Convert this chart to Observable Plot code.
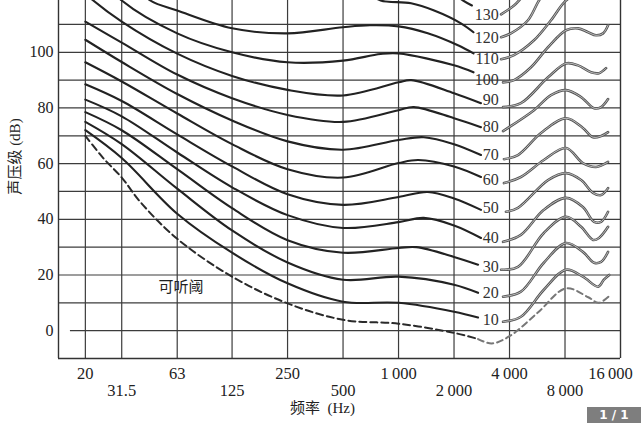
<!DOCTYPE html>
<html><head><meta charset="utf-8">
<script src="https://cdn.jsdelivr.net/npm/d3@7"></script>
<script src="https://cdn.jsdelivr.net/npm/@observablehq/plot@0.6"></script>
<style>
html,body{margin:0;padding:0;background:#fff;}
#wrap{position:relative;width:643px;height:424px;overflow:hidden;}
#badge{position:absolute;left:587px;top:407px;width:54px;height:16px;background:#7e7e7e;color:#fff;font:bold 12px "DejaVu Sans",sans-serif;text-align:center;line-height:16px;}
</style></head><body>
<div id="wrap"><div id="chart"></div><div id="badge">1 / 1</div></div>
<script>
// ---- axes ----
const xDomain = [14.3, 16000];
const yDomain = [-10, 118.6];
const gridFreq = [20, 31.5, 63, 125, 250, 500, 1000, 2000, 4000, 8000];
const upperTicks = [20, 63, 250, 1000, 4000, 16000];
const upperLabels = ["20", "63", "250", "1\u2009000", "4\u2009000", "16\u2009000"];
const lowerTicks = [31.5, 125, 500, 2000, 8000];
const lowerLabels = ["31.5", "125", "500", "2\u2009000", "8\u2009000"];
const gridDb = [10, 20, 30, 40, 50, 60, 70, 80, 90, 100, 110];
const yTicks = [0, 20, 40, 60, 80, 100];
const xTitle = "频率  (Hz)";
const yTitle = "声压级 (dB)";
const thresholdName = "可听阈";

// ---- threshold of hearing (dashed) [Hz, dB] ----
const thresholdLow = [[20,70],[25,62],[31.5,55],[40,46],[63,33],[125,19.4],[250,9.8],[500,3.9],[1000,2.5],[2000,-0.8],[2700,-3]];
const thresholdHigh = [[2700,-3],[3200,-4.6],[4000,-2],[5700,6.5],[8100,15.2],[10700,12],[12200,10],[14200,13]];

// ---- equal-loudness contours, left part (before label) [Hz, dB] ----
const L10 = [[20,72],[31.5,62],[63,42],[125,28],[250,17],[500,10.4],[1000,10],[2000,6.8],[2700,4.7]];
const L20 = [[20,75],[31.5,67],[63,51],[125,36],[250,24.5],[500,18.3],[1000,19.4],[2000,16.5],[2700,13.6]];
const L30 = [[20,78.5],[31.5,72],[63,58],[125,44],[250,32.5],[500,28],[1000,29.7],[1250,30],[2000,26.5],[2700,23.7]];
const L40 = [[20,83],[31.5,77],[63,64],[125,51.5],[250,41.5],[500,36.9],[1000,39],[1370,40.5],[2000,37.8],[2800,33.3]];
const L50 = [[20,88.5],[31.5,82.5],[63,70.5],[125,59],[250,49],[500,45.2],[1000,48],[1440,49.8],[2000,47.5],[2800,43.4]];
const L60 = [[20,96.4],[31.5,89.5],[63,78],[125,67],[250,58],[500,55],[1000,60.2],[1280,61.3],[2000,59],[2800,55.2]];
const L70 = [[20,104.5],[31.5,96.5],[63,85],[125,75.5],[250,68],[500,65],[1000,68.5],[1370,69.5],[2000,67],[2800,63.1]];
const L80 = [[20,111],[31.5,103.5],[63,92],[125,83.5],[250,77.5],[500,75],[1000,79.2],[1210,80.3],[2000,76.3],[2800,73.1]];
const L90 = [[18,124],[20,121],[31.5,111],[63,99.5],[125,91.5],[250,86.5],[500,84.5],[1000,89.2],[1170,90],[2000,85.3],[2800,81.7]];
const L100 = [[25,126],[31.5,118.6],[63,106.8],[125,100],[250,96.4],[500,97],[800,99.4],[1000,99.6],[2000,95.3],[2550,92.8]];
const L110 = [[38,124],[45,118.6],[63,115],[125,108.6],[250,106.8],[500,109],[700,109.7],[1000,109.3],[1440,106.8],[2100,102.5],[2550,99.6]];
const L120 = [[700,121],[800,118.6],[1170,117.6],[1560,115],[2180,110.4],[2550,107.2]];
const L130 = [[1800,123],[2240,118.6],[2500,116.8]];

// ---- right part (after label) [Hz, dB] ----
const R10 = [[3690,3.2],[4610,5],[6140,14.7],[8100,21.9],[10000,19.4],[12100,15.8],[13000,18.3],[13900,20]];
const R20 = [[3690,12.2],[4610,14],[6140,24.4],[8100,31.5],[10000,28.3],[11500,24.4],[12550,24.7],[13700,28.3]];
const R30 = [[3600,21.9],[4446,22.9],[6140,35.1],[8100,40.9],[9780,37.3],[11350,32.6],[12230,33.3],[13700,37.3]];
const R40 = [[3690,31.9],[4610,34.4],[6140,43.4],[8100,47.7],[10000,44.4],[11500,39.1],[12550,39.1],[13700,42.7]];
const R50 = [[3825,42.7],[4446,44.1],[6470,54.1],[8100,56.6],[9780,54.1],[11350,49.5],[12550,48.7],[13700,51.2]];
const R60 = [[3731,53],[4610,55.2],[6140,61.3],[8100,65.6],[10000,60.2],[11790,58.8],[13700,60.6]];
const R70 = [[3731,61.6],[4446,63.1],[5926,71],[8100,76.3],[10000,72.8],[11350,69.5],[12550,69.9],[13700,71.3]];
const R80 = [[3690,71.7],[5430,79.2],[6714,84.6],[8100,86.4],[9780,83.9],[11500,79.9],[12550,80.3],[13700,83.2]];
const R90 = [[3690,80.3],[4610,81.7],[6470,91],[8100,96],[9417,95.3],[11077,92.8],[12230,92.5],[13360,94.3]];
const R100 = [[3690,89.2],[4230,90],[5231,94.6],[6470,101.8],[8100,107.9],[9417,108.6],[10672,107.2],[11790,106.1],[12876,106.8],[13700,109.7]];
const R110 = [[3600,97.5],[4230,99],[5430,104.3],[6714,111.5],[8100,118.6],[9500,121],[12000,120],[13500,122]];
const R120 = [[3600,105.4],[4070,106.8],[5038,111.5],[5781,118.6],[6500,123]];
const R130 = [[3600,113.6],[4230,116.8],[4501,118.6],[5000,122]];

// ---- curve labels ----
const phons = [130, 120, 110, 100, 90, 80, 70, 60, 50, 40, 30, 20, 10];
const labelDb = [113.3, 105, 97.8, 90, 82.8, 73.1, 63.1, 54.1, 44.1, 33.3, 22.9, 13.6, 3.9];
const labelFreq = 3500;
const thresholdLabelFreq = 66, thresholdLabelDb = 15.5;

const lefts = [L10,L20,L30,L40,L50,L60,L70,L80,L90,L100,L110,L120,L130];
const rights = [R10,R20,R30,R40,R50,R60,R70,R80,R90,R100,R110,R120,R130];
const toRows = (segs) => segs.flatMap((pts, i) => pts.map(([f, db]) => ({phon: (i + 1) * 10, f, db})));
const leftRows = toRows(lefts);
const rightRows = toRows(rights);
const thrLowRows = thresholdLow.map(([f, db]) => ({f, db}));
const thrHighRows = thresholdHigh.map(([f, db]) => ({f, db}));
const labelRows = phons.map((p, i) => ({p, db: labelDb[i]}));

const serif = "'Liberation Serif','DejaVu Serif','Noto Sans CJK SC',serif";
const cjk = "'Liberation Serif','Noto Sans CJK SC',serif";

const chart = Plot.plot({
  width: 643, height: 424,
  marginLeft: 58, marginRight: 23, marginTop: 0, marginBottom: 66,
  x: {type: "log", domain: xDomain, axis: null},
  y: {domain: yDomain, axis: null},
  style: {background: "white", fontFamily: serif},
  marks: [
    Plot.ruleY(gridDb, {y: d => d, stroke: "#3c3c3c", strokeWidth: 1.2}),
    Plot.ruleY([0], {y: d => d, x1: 16.6, x2: xDomain[1], stroke: "#3c3c3c", strokeWidth: 1.2}),
    Plot.ruleX(gridFreq, {x: d => d, stroke: "#3c3c3c", strokeWidth: 1.2}),
    Plot.ruleX(xDomain, {x: d => d, stroke: "#333", strokeWidth: 1.4}),
    Plot.ruleY([yDomain[0]], {y: d => d, stroke: "#333", strokeWidth: 1.4}),
    Plot.line(leftRows, {x: "f", y: "db", z: "phon", curve: "catmull-rom", stroke: "#222", strokeWidth: 2.1, clip: true}),
    Plot.line(rightRows, {x: "f", y: "db", z: "phon", curve: "catmull-rom", stroke: "#555", strokeWidth: 2.6, clip: true}),
    Plot.line(rightRows, {x: "f", y: "db", z: "phon", curve: "catmull-rom", stroke: "#d8d8d8", strokeWidth: 0.8, clip: true}),
    Plot.line(thrLowRows, {x: "f", y: "db", curve: "catmull-rom", stroke: "#2a2a2a", strokeWidth: 2, strokeDasharray: "7,4", clip: true}),
    Plot.line(thrHighRows, {x: "f", y: "db", curve: "catmull-rom", stroke: "#777", strokeWidth: 2, strokeDasharray: "6,4", clip: true}),
    Plot.text(labelRows, {x: () => labelFreq, y: "db", text: d => String(d.p), textAnchor: "end", fontSize: 16, fill: "#333"}),
    Plot.text(yTicks, {x: () => xDomain[0], y: d => d, text: d => String(d), textAnchor: "end", dx: -5, fontSize: 16, fill: "#222"}),
    Plot.text(upperTicks, {filter: d => d !== 16000, x: d => d, frameAnchor: "bottom", lineAnchor: "middle", text: (d, i) => upperLabels[i], dy: 15, fontSize: 16.5, fill: "#222"}),
    Plot.text(upperTicks, {filter: d => d === 16000, x: d => d, frameAnchor: "bottom", lineAnchor: "middle", text: (d, i) => upperLabels[i], dy: 15, dx: -10, fontSize: 16.5, fill: "#222"}),
    Plot.text(lowerTicks, {x: d => d, frameAnchor: "bottom", lineAnchor: "middle", text: (d, i) => lowerLabels[i], dy: 32, fontSize: 16.5, fill: "#222"}),
    Plot.text([xTitle], {frameAnchor: "bottom", lineAnchor: "middle", textAnchor: "middle", dy: 50, dx: -17, fontSize: 15, fill: "#222", fontFamily: cjk}),
    Plot.text([yTitle], {frameAnchor: "left", textAnchor: "middle", lineAnchor: "middle", rotate: -90, dx: -43, dy: -23, fontSize: 15, fill: "#222", fontFamily: cjk}),
    Plot.text([thresholdName], {x: () => thresholdLabelFreq, y: () => thresholdLabelDb, fontSize: 15, fill: "#222", fontFamily: cjk})
  ]
});
document.getElementById("chart").appendChild(chart);
</script>
</body></html>
